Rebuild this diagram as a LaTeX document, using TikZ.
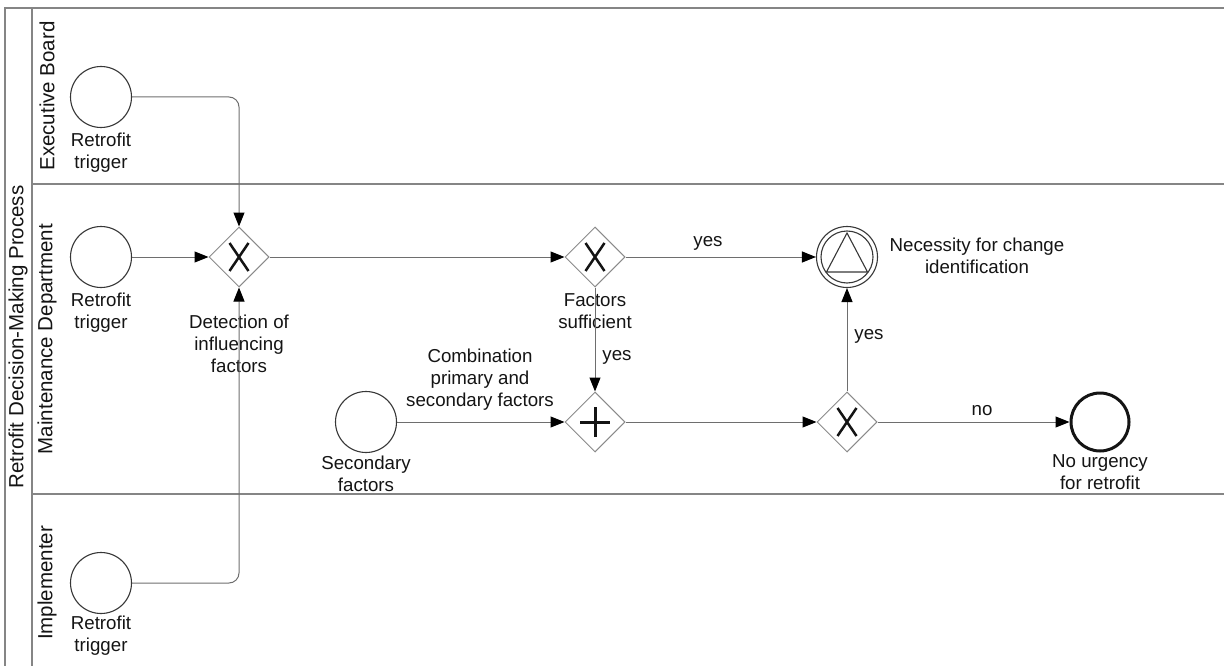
\documentclass[tikz,border=0pt]{standalone}
\usepackage{fontspec}
\setmainfont{Liberation Sans}
\usetikzlibrary{shapes.geometric,arrows.meta,calc}
\definecolor{framegray}{HTML}{858585}
\definecolor{edgegray}{HTML}{6E6E6E}
\definecolor{gategray}{HTML}{8A8A8A}
\definecolor{ink}{HTML}{141414}

\begin{document}
\begin{tikzpicture}[x=1pt,y=-1pt,
  every node/.style={text=ink},
  lbl/.style={align=center, font=\fontsize{18.7}{22}\selectfont, inner sep=0pt},
  lanelbl/.style={rotate=90, font=\fontsize{20.5}{24}\selectfont, inner sep=0pt},
  frame/.style={draw=framegray, line width=1.1pt},
  event/.style={circle, draw=ink!85, line width=1.1pt, minimum size=61pt, inner sep=0pt},
  endevent/.style={circle, draw=ink, line width=3pt, minimum size=58pt, inner sep=0pt},
  midevent/.style={circle, draw=ink!85, line width=1.1pt, minimum size=61pt, inner sep=0pt},
  gateway/.style={diamond, draw=gategray, line width=1pt, minimum width=60pt,
    minimum height=60pt, inner sep=0pt},
  xgate/.style={gateway, path picture={
    \draw[ink, line width=2.5pt, shift={(path picture bounding box.center)}]
      (-9.5,-14) -- (9.5,14) (-9.5,14) -- (9.5,-14);}},
  pgate/.style={gateway, path picture={
    \draw[ink, line width=3pt, shift={(path picture bounding box.center)}]
      (-15,0) -- (15,0) (0,-15) -- (0,15);}},
  flow/.style={draw=edgegray, line width=1pt,
    -{Triangle[length=14pt,width=11pt,color=black]}},
]
\useasboundingbox (0,0) rectangle (1224,666);

% pool and lanes
\draw[frame] (1224,8) -- (5,8) -- (5,666);
\draw[frame] (32,8) -- (32,666);
\draw[frame] (32,184) -- (1224,184);
\draw[frame] (32,494) -- (1224,494);
\node[lanelbl] (pool) at (18,337) {Retrofit Decision-Making Process};
\node[lanelbl] (laneA) at (47,96) {Executive Board};
\node[lanelbl] (laneB) at (47,339) {Maintenance Department};
\node[lanelbl] (laneC) at (47,583) {Implementer};

% events
\node[event] (s1) at (101,97) {};
\node[lbl] (s1l) at (101,153) {Retrofit\\trigger};
\node[event] (s2) at (101,257) {};
\node[lbl] (s2l) at (101,313) {Retrofit\\trigger};
\node[event] (s3) at (101,583) {};
\node[lbl] (s3l) at (101,636) {Retrofit\\trigger};
\node[event] (s4) at (366,422) {};
\node[lbl] (s4l) at (366,474) {Secondary\\factors};

% gateways
\node[xgate] (g1) at (239,257) {};
\node[lbl] (g1l) at (239,344) {Detection of\\influencing\\factors};
\node[xgate] (g2) at (595,257) {};
\node[lbl] (g2l) at (595,311) {Factors\\sufficient};
\node[pgate] (g3) at (595,422) {};
\node[xgate] (g4) at (847,422) {};

% outcomes
\node[midevent] (nec) at (847,257) {};
\draw[ink!85, line width=1.1pt] (nec.center) circle[radius=26pt];
\draw[ink!85, line width=1.1pt] ($(nec.center)+(0,-24)$) -- ($(nec.center)+(20.5,15)$)
  -- ($(nec.center)+(-20.5,15)$) -- cycle;
\node[lbl] (necl) at (977,256) {Necessity for change\\identification};
\node[endevent] (e1) at (1100,422) {};
\node[lbl] (e1l) at (1100,472) {No urgency\\for retrofit};

% sequence flows
\draw[flow, rounded corners=10pt] (s1.east) -| (g1.north);
\draw[flow, rounded corners=10pt] (s3.east) -| (g1.south);
\draw[flow] (s2) -- (g1);
\draw[flow] (g1) -- (g2);
\draw[flow] (g2) -- (nec);
\draw[flow] (g2) -- (g3);
\draw[flow] (s4) -- (g3);
\draw[flow] (g3) -- (g4);
\draw[flow] (g4) -- (nec);
\draw[flow] (g4) -- (e1);

% flow labels
\node[lbl] (y1) at (708,243) {yes};
\node[lbl] (y2) at (617,357) {yes};
\node[lbl] (y3) at (869,336) {yes};
\node[lbl] (n1) at (982,411) {no};
\node[lbl] (cl) at (480,380) {Combination\\primary and\\secondary factors};
\end{tikzpicture}
\end{document}
